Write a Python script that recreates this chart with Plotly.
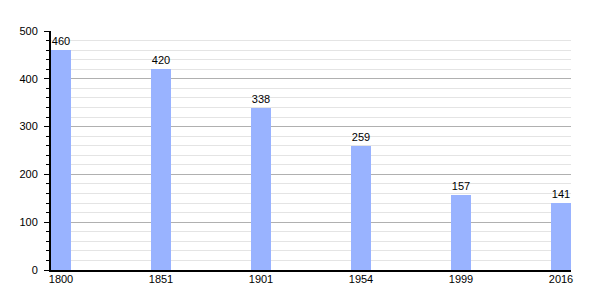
import plotly.graph_objects as go

years = ["1800", "1851", "1901", "1954", "1999", "2016"]
population = [460, 420, 338, 259, 157, 141]

pos = list(range(len(years)))
bar_w = 0.2
centers = [p + bar_w / 2 for p in pos]

fig = go.Figure()
fig.add_trace(go.Bar(
    x=pos, y=population, width=bar_w, offset=0,
    marker=dict(color="#99b3ff", line=dict(width=0)),
    text=[str(v) for v in population], textposition="outside",
    textfont=dict(size=11, color="black", family="Liberation Sans, Arial, sans-serif"),
    cliponaxis=False,
))

fig.update_layout(
    width=600, height=300,
    margin=dict(l=51, r=29, t=31, b=30),
    paper_bgcolor="white", plot_bgcolor="white",
    showlegend=False,
    font=dict(family="Liberation Sans, Arial, sans-serif", size=11, color="black"),
    bargap=0,
)
fig.update_xaxes(
    range=[0, len(years) - 1 + bar_w],
    tickmode="array", tickvals=centers, ticktext=years,
    showgrid=False, showline=True, linecolor="black", linewidth=2,
    ticks="", ticklen=0, zeroline=False, ticklabelstandoff=-2,
    tickfont=dict(size=11, color="black"),
)
fig.update_yaxes(
    range=[0, 500], tickmode="linear", tick0=0, dtick=100,
    showgrid=True, gridcolor="#b0b0b0", gridwidth=1,
    showline=True, linecolor="black", linewidth=2,
    ticks="outside", ticklen=5, tickcolor="black", tickwidth=1,
    zeroline=False, ticklabelstandoff=4,
    tickfont=dict(size=11, color="black"),
    minor=dict(dtick=20, showgrid=True, gridcolor="#e4e4e4", gridwidth=1,
               ticks="outside", ticklen=3, tickcolor="black", tickwidth=1),
)

fig.write_html("out.html")
